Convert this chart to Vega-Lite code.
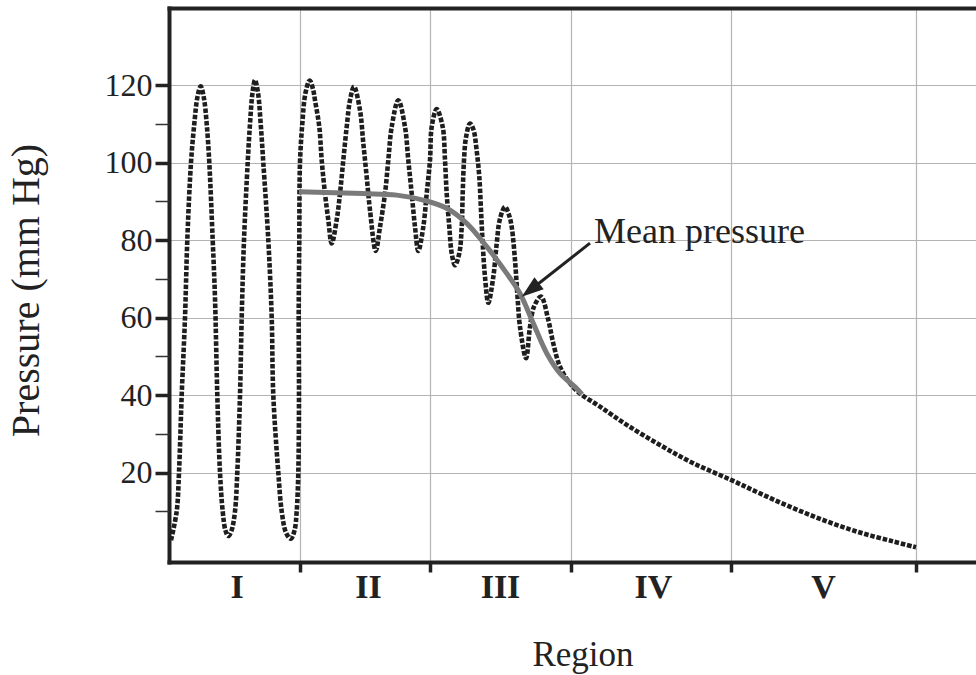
{
  "$schema": "https://vega.github.io/schema/vega-lite/v6.json",
  "width": 807,
  "height": 554,
  "autosize": {"type": "none"},
  "padding": {"left": 169, "top": 8, "right": 0, "bottom": 113},
  "background": "white",
  "config": {
    "view": {"stroke": null},
    "font": "Liberation Serif",
    "axis": {"labelFont": "Liberation Serif", "titleFont": "Liberation Serif", "titleFontWeight": "normal", "labelColor": "#222", "titleColor": "#222"}
  },
  "datasets": {
    "pulse": [
      {"i":1,"x":2,"p":2.5},{"i":2,"x":7.7,"p":10},{"i":3,"x":10,"p":20},{"i":4,"x":12.7,"p":40},{"i":5,"x":16,"p":60},
      {"i":6,"x":18.3,"p":80},{"i":7,"x":22,"p":100},{"i":8,"x":25.3,"p":110},{"i":9,"x":28.5,"p":117},{"i":10,"x":31.7,"p":119.7},
      {"i":11,"x":35,"p":116.5},{"i":12,"x":37.7,"p":110},{"i":13,"x":40.3,"p":100},{"i":14,"x":43.7,"p":80},{"i":15,"x":46,"p":65},
      {"i":16,"x":48.3,"p":40},{"i":17,"x":51,"p":20},{"i":18,"x":53.7,"p":10},{"i":19,"x":56.5,"p":5},{"i":20,"x":59.3,"p":3.6},
      {"i":21,"x":62.5,"p":5},{"i":22,"x":66,"p":10},{"i":23,"x":68.3,"p":20},{"i":24,"x":71,"p":40},{"i":25,"x":72.7,"p":60},
      {"i":26,"x":75,"p":80},{"i":27,"x":78.7,"p":100},{"i":28,"x":81,"p":110},{"i":29,"x":83.5,"p":118},{"i":30,"x":86,"p":121.3},
      {"i":31,"x":89,"p":118},{"i":32,"x":91.7,"p":110},{"i":33,"x":94.3,"p":100},{"i":34,"x":99.3,"p":80},{"i":35,"x":102.7,"p":60},
      {"i":36,"x":104.3,"p":40},{"i":37,"x":109.3,"p":20},{"i":38,"x":112.7,"p":10},{"i":39,"x":117,"p":4.5},{"i":40,"x":121.7,"p":2.9},
      {"i":41,"x":125.5,"p":5},{"i":42,"x":127.7,"p":10},{"i":43,"x":129.3,"p":20},{"i":44,"x":130,"p":40},{"i":45,"x":129.7,"p":60},
      {"i":46,"x":130.3,"p":80},{"i":47,"x":131,"p":100},{"i":48,"x":133.3,"p":110},{"i":49,"x":136.5,"p":118},{"i":50,"x":140.7,"p":121.2},
      {"i":51,"x":144,"p":119},{"i":52,"x":146,"p":116.1},{"i":53,"x":150.3,"p":109.2},{"i":54,"x":152.7,"p":100.6},{"i":55,"x":156,"p":92},
      {"i":56,"x":159.3,"p":85.2},{"i":57,"x":162.7,"p":79.1},{"i":58,"x":167.7,"p":85.2},{"i":59,"x":171,"p":92},{"i":60,"x":174.3,"p":100.6},
      {"i":61,"x":177.7,"p":109.2},{"i":62,"x":181,"p":116.1},{"i":63,"x":185,"p":119.6},{"i":64,"x":191,"p":113.5},{"i":65,"x":194.3,"p":105},
      {"i":66,"x":197.7,"p":96.3},{"i":67,"x":201,"p":87.7},{"i":68,"x":206.7,"p":77.2},{"i":69,"x":211,"p":83.4},{"i":70,"x":216,"p":92},
      {"i":71,"x":219.3,"p":100.6},{"i":72,"x":222.7,"p":109.2},{"i":73,"x":229.3,"p":116.1},{"i":74,"x":236,"p":109.2},{"i":75,"x":239.3,"p":100.6},
      {"i":76,"x":242.7,"p":92},{"i":77,"x":246,"p":83.4},{"i":78,"x":249.3,"p":77.2},{"i":79,"x":254.3,"p":83.4},{"i":80,"x":257.7,"p":92},
      {"i":81,"x":261,"p":100.6},{"i":82,"x":262.7,"p":109.2},{"i":83,"x":267.7,"p":113.8},{"i":84,"x":273.7,"p":109.2},{"i":85,"x":276,"p":100.6},
      {"i":86,"x":277.7,"p":92},{"i":87,"x":280.3,"p":83.4},{"i":88,"x":282.7,"p":76.6},{"i":89,"x":286,"p":73.5},{"i":90,"x":290.3,"p":76.6},
      {"i":91,"x":292.7,"p":83.4},{"i":92,"x":293.7,"p":92},{"i":93,"x":295,"p":100.6},{"i":94,"x":297,"p":106.5},{"i":95,"x":301,"p":110.1},
      {"i":96,"x":304.5,"p":108.5},{"i":97,"x":307.7,"p":103},{"i":98,"x":310.3,"p":96.3},{"i":99,"x":312,"p":87.7},{"i":100,"x":313.7,"p":79.1},
      {"i":101,"x":316,"p":70.5},{"i":102,"x":319.3,"p":63.8},{"i":103,"x":324.3,"p":70.5},{"i":104,"x":327.7,"p":79.1},{"i":105,"x":331,"p":85.5},
      {"i":106,"x":336,"p":88.6},{"i":107,"x":340,"p":86.5},{"i":108,"x":342.7,"p":83.4},{"i":109,"x":346,"p":74.8},{"i":110,"x":348.3,"p":66.2},
      {"i":111,"x":351,"p":57.6},{"i":112,"x":357,"p":49.5},{"i":113,"x":361,"p":57.6},{"i":114,"x":365,"p":62.8},{"i":115,"x":372,"p":65.4},
      {"i":116,"x":379.3,"p":59.4},{"i":117,"x":384.3,"p":53.3},{"i":118,"x":391,"p":47.3},{"i":119,"x":401,"p":43},{"i":120,"x":411,"p":40.4},
      {"i":121,"x":431,"p":37},{"i":122,"x":457.7,"p":32.3},{"i":123,"x":491,"p":27.1},{"i":124,"x":524.3,"p":22.4},{"i":125,"x":562,"p":18.1},
      {"i":126,"x":591,"p":14.6},{"i":127,"x":624.3,"p":10.8},{"i":128,"x":657.7,"p":7.4},{"i":129,"x":691,"p":4.5},{"i":130,"x":724.3,"p":2.2},
      {"i":131,"x":747,"p":0.7}
    ],
    "mean": [
      {"i":1,"x":130,"p":92.5},{"i":2,"x":194.3,"p":92},{"i":3,"x":227.7,"p":91.6},{"i":4,"x":254.3,"p":90.3},{"i":5,"x":277.7,"p":88.2},
      {"i":6,"x":297.7,"p":84.3},{"i":7,"x":317.7,"p":78.3},{"i":8,"x":337.7,"p":71.4},{"i":9,"x":351,"p":66.2},{"i":10,"x":364.3,"p":58.5},
      {"i":11,"x":377.7,"p":50.8},{"i":12,"x":391,"p":45.6},{"i":13,"x":407.7,"p":41.7},{"i":14,"x":413,"p":40.2}
    ],
    "arrow": [{"x":421,"p":79.2,"x2":361.4,"p2":67.1}],
    "head": [{"x":361.4,"p":67.1}],
    "note": [{"x":425,"p":79.2,"text":"Mean pressure"}]
  },
  "resolve": {"axis": {"x": "independent", "y": "independent"}},
  "layer": [
    {
      "data": {"name": "pulse"},
      "mark": {"type": "line", "interpolate": "catmull-rom", "color": "#1e1e1e", "strokeWidth": 4.6, "strokeDash": [4.5, 1.8], "strokeCap": "butt"},
      "encoding": {
        "x": {"field": "x", "type": "quantitative", "scale": {"domain": [0, 807], "nice": false, "zero": false},
          "axis": {"orient": "bottom", "values": [130.5, 261, 402, 562, 747], "labels": false, "title": null,
            "grid": true, "gridColor": "#b4b4b4", "gridWidth": 1.2,
            "ticks": true, "tickSize": 10, "tickWidth": 3.5, "tickColor": "#222",
            "domain": true, "domainWidth": 4, "domainColor": "#222", "domainCap": "square", "zindex": 0}},
        "y": {"field": "p", "type": "quantitative", "scale": {"domain": [-3.1, 139.9], "nice": false, "zero": false},
          "axis": {"orient": "left", "values": [20, 40, 60, 80, 100, 120], "format": "d",
            "grid": true, "gridColor": "#b4b4b4", "gridWidth": 1.2,
            "ticks": true, "tickSize": 14, "tickWidth": 3.5, "tickColor": "#222",
            "domain": true, "domainWidth": 4, "domainColor": "#222", "domainCap": "square",
            "labelFontSize": 32, "labelPadding": 3, "labelBaseline": "middle",
            "title": "Pressure (mm Hg)", "titleFontSize": 40, "titleX": -131, "titleY": 282, "titleAngle": 270,
            "titleBaseline": "alphabetic", "titleAlign": "center", "zindex": 0}},
        "order": {"field": "i", "type": "quantitative"}
      }
    },
    {
      "data": {"name": "mean"},
      "mark": {"type": "line", "interpolate": "catmull-rom", "color": "#7a7a7a", "strokeWidth": 5},
      "encoding": {
        "x": {"field": "x", "type": "quantitative",
          "axis": {"orient": "bottom", "values": [67.5, 199, 331, 484, 654], "ticks": false, "domain": false, "grid": false,
            "labelExpr": "datum.value < 100 ? 'I' : datum.value < 250 ? 'II' : datum.value < 400 ? 'III' : datum.value < 550 ? 'IV' : 'V'",
            "labelFontSize": 34, "labelFontWeight": "bold", "labelBaseline": "alphabetic", "labelPadding": 35,
            "labelOverlap": false, "labelFlush": false, "labelBound": false,
            "title": "Region", "titleFontSize": 35, "titleX": 413.5, "titleY": 103, "titleBaseline": "alphabetic", "titleAlign": "center", "zindex": 1}},
        "y": {"field": "p", "type": "quantitative",
          "axis": {"orient": "left", "values": [10, 30, 50, 70, 90, 110], "labels": false, "grid": false, "domain": false,
            "ticks": true, "tickSize": 14, "tickWidth": 1.5, "tickColor": "#333", "title": null, "zindex": 1}},
        "order": {"field": "i", "type": "quantitative"}
      }
    },
    {
      "data": {"name": "arrow"},
      "mark": {"type": "rule", "color": "#222", "strokeWidth": 3},
      "encoding": {
        "x": {"field": "x", "type": "quantitative",
          "axis": {"orient": "top", "domain": true, "domainWidth": 4, "domainColor": "#222", "domainCap": "square",
            "ticks": false, "labels": false, "grid": false, "title": null, "zindex": 1}},
        "y": {"field": "p", "type": "quantitative", "axis": null},
        "x2": {"field": "x2"},
        "y2": {"field": "p2"}
      }
    },
    {
      "data": {"name": "head"},
      "mark": {"type": "point", "shape": "M0,-1L0.68,1L-0.68,1Z", "filled": true, "color": "#222", "opacity": 1, "size": 484, "angle": 232},
      "encoding": {
        "x": {"field": "x", "type": "quantitative", "axis": null},
        "y": {"field": "p", "type": "quantitative", "axis": null}
      }
    },
    {
      "data": {"name": "note"},
      "mark": {"type": "text", "font": "Liberation Serif", "fontSize": 36, "color": "#222", "align": "left", "baseline": "alphabetic"},
      "encoding": {
        "x": {"field": "x", "type": "quantitative", "axis": null},
        "y": {"field": "p", "type": "quantitative", "axis": null},
        "text": {"field": "text"}
      }
    }
  ]
}
